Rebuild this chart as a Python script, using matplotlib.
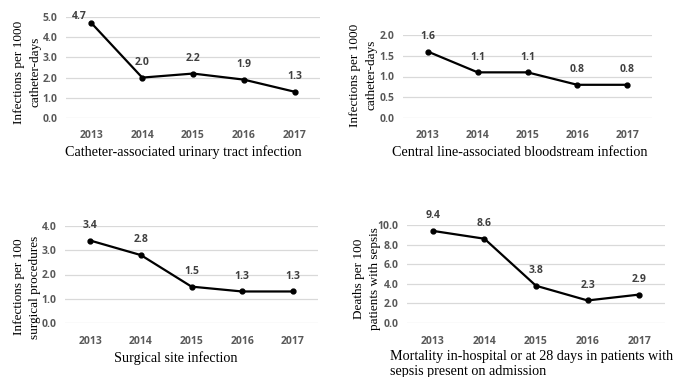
import matplotlib.pyplot as plt

W, H = 676, 377

years = ['2013', '2014', '2015', '2016', '2017']

cauti = [4.7, 2.0, 2.2, 1.9, 1.3]
clabsi = [1.6, 1.1, 1.1, 0.8, 0.8]
ssi = [3.4, 2.8, 1.5, 1.3, 1.3]
sepsis = [9.4, 8.6, 3.8, 2.3, 2.9]

titles = ['Catheter-associated urinary tract infection',
          'Central line-associated bloodstream infection',
          'Surgical site infection',
          'Mortality in-hospital or at 28 days in patients with\nsepsis present on admission']
ylabels = ['Infections per 1000\ncatheter-days',
           'Infections per 1000\ncatheter-days',
           'Infections per 100\nsurgical procedures',
           'Deaths per 100\npatients with sepsis']
yticks = [[0, 1, 2, 3, 4, 5],
          [0, 0.5, 1.0, 1.5, 2.0],
          [0, 1, 2, 3, 4],
          [0, 2, 4, 6, 8, 10]]

# pixel boxes: left, right, top, bottom
boxes = [(66, 320, 17, 118), (403, 652, 35, 118),
         (65, 318, 226, 323), (407, 665, 225, 323)]
ylab_pos = [(27, 72), (363, 75), (27, 287), (367, 279)]
title_pos = [(183, 152, 'center'), (520, 152, 'center'),
             (176, 358, 'center'), (390, 364, 'left')]

serif = 'Liberation Serif'
sans = 'Open Sans'

fig = plt.figure(figsize=(W / 100, H / 100), dpi=100)

for i, vals in enumerate([cauti, clabsi, ssi, sepsis]):
    l, r, t, b = boxes[i]
    ax = fig.add_axes([l / W, 1 - b / H, (r - l) / W, (b - t) / H])
    x = range(len(years))
    ax.plot(x, vals, color='black', lw=1.6, marker='o', ms=3.5, clip_on=False, zorder=3)
    for j, v in enumerate(vals):
        off = (0, 7)
        if i == 0 and j == 0:
            off = (-9, 1)
        ax.annotate(f'{v:.1f}', (j, v), xytext=off, textcoords='offset points',
                    ha='center', va='bottom', fontsize=7.5, fontweight='bold',
                    color='#404040', family=sans)
    ax.set_xlim(-0.5, len(years) - 0.5)
    ax.set_ylim(yticks[i][0], yticks[i][-1])
    ax.set_yticks(yticks[i])
    ax.set_yticklabels([f'{v:.1f}' for v in yticks[i]])
    ax.set_xticks(list(x))
    ax.set_xticklabels(years)
    ax.grid(axis='y', color='#d9d9d9', lw=0.9)
    ax.set_axisbelow(True)
    for s in ax.spines.values():
        s.set_visible(False)
    ax.tick_params(length=0, labelsize=7.5, labelcolor='#595959', pad=6)
    for lab in ax.get_xticklabels() + ax.get_yticklabels():
        lab.set_fontweight('bold')
        lab.set_family(sans)
    ax.tick_params(axis='x', pad=9)

    xl, yl = ylab_pos[i]
    fig.text(xl / W, 1 - yl / H, ylabels[i], rotation=90, ha='center', va='center',
             fontsize=9.5, family=serif, linespacing=1.55)
    tx, ty, ha = title_pos[i]
    fig.text(tx / W, 1 - ty / H, titles[i], ha=ha, va='center', fontsize=10.2,
             family=serif, linespacing=1.15)

fig.savefig('out.png', dpi=100)
